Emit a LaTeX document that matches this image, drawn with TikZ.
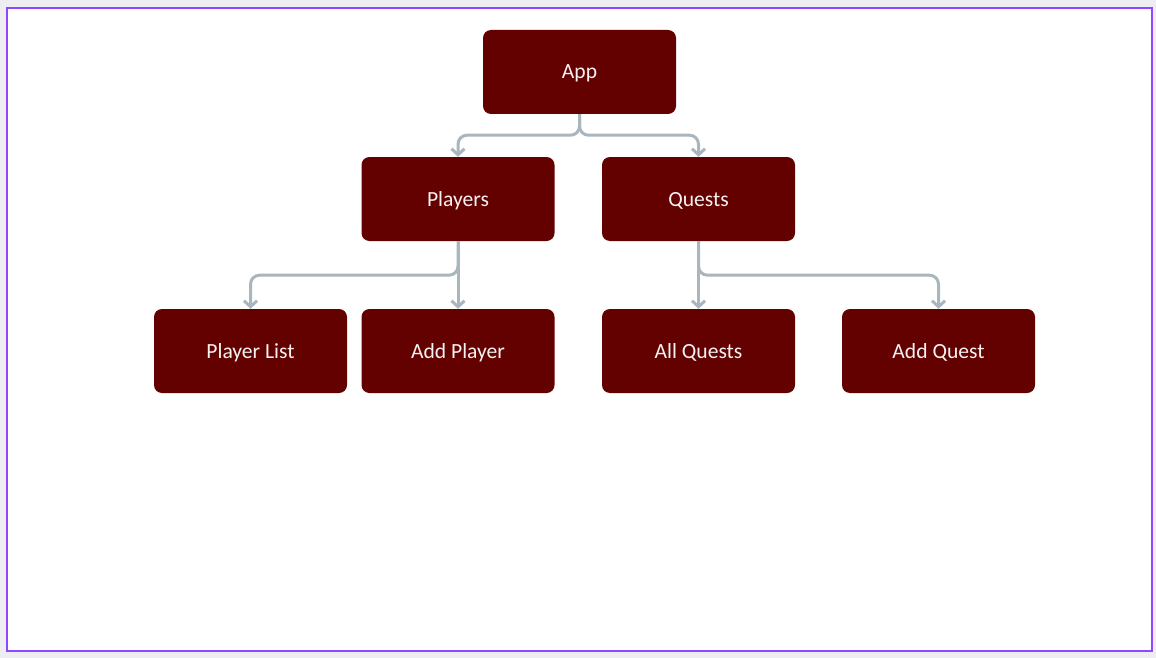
\documentclass[tikz,border=0pt]{standalone}
\usepackage{fontspec}
\setmainfont{Carlito}
\usetikzlibrary{arrows.meta}
\definecolor{boxred}{HTML}{630000}
\definecolor{linkgrey}{HTML}{A9B6BE}
\definecolor{framepurple}{HTML}{9146FF}
\definecolor{pagegrey}{HTML}{EEEEF2}
\tikzset{
	page/.style={x=1pt,y=-1pt},
	compbox/.style={fill=boxred,rounded corners=8pt,minimum width=193pt,minimum height=84pt,
		text=white!95!boxred,font=\fontsize{21.6}{24}\selectfont,inner sep=0pt,
		text height=14pt,text depth=0pt},
	link/.style={draw=linkgrey,line width=3pt,rounded corners=9pt,
		-{Straight Barb[length=6pt,width=13pt,line width=3pt]}}
}
\begin{document}
\begin{tikzpicture}[page]
		% frame
		\fill[pagegrey] (0,0) rectangle (1156,658);
		\filldraw[fill=white,draw=framepurple,line width=2pt] (7,8) rectangle (1152,651);
		% components
		\node[compbox] (app) at (579.5,72) {App};
		\node[compbox] (players) at (458,199) {Players};
		\node[compbox] (quests) at (698.5,199) {Quests};
		\node[compbox] (playerlist) at (250.5,351) {Player List};
		\node[compbox] (addplayer) at (458,351) {Add Player};
		\node[compbox] (allquests) at (698.5,351) {All Quests};
		\node[compbox] (addquest) at (938.5,351) {Add Quest};
		% links
		\draw[link] (app.south) -- ++(0,21) -| (players.north);
		\draw[link] (app.south) -- ++(0,21) -| (quests.north);
		\draw[link] (players.south) -- ++(0,34) -| (playerlist.north);
		\draw[link] (players.south) -- (addplayer.north);
		\draw[link] (quests.south) -- (allquests.north);
		\draw[link] (quests.south) -- ++(0,34) -| (addquest.north);
	\end{tikzpicture}
\end{document}
